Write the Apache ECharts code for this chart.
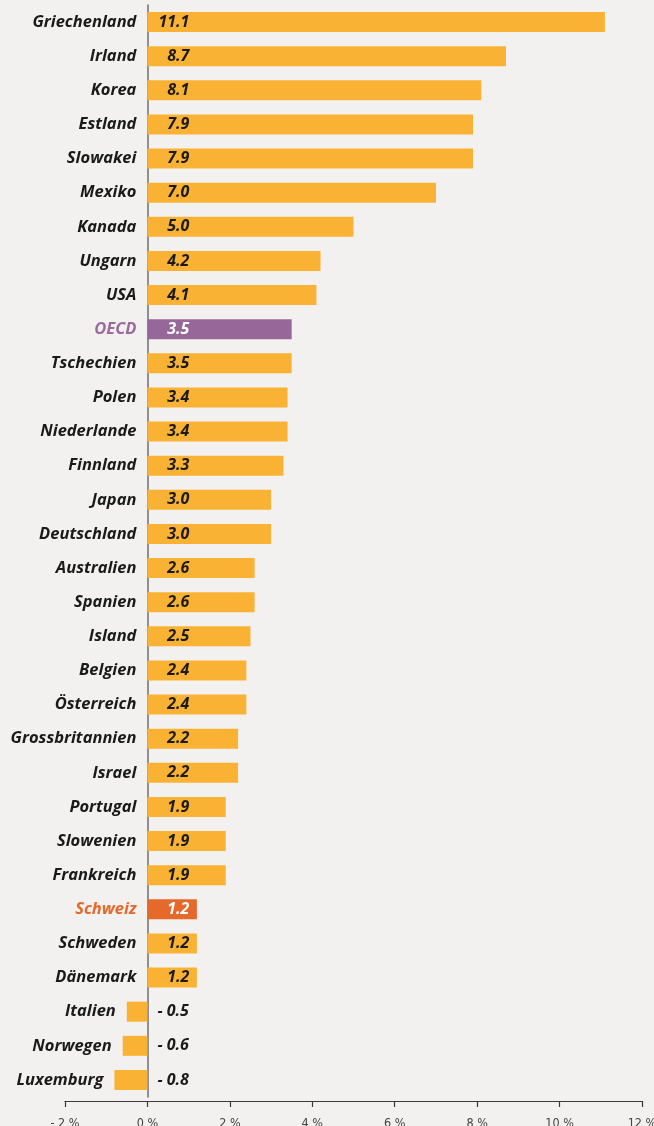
<!DOCTYPE html>
<html>
<head>
<meta charset="utf-8">
<script src="https://cdn.jsdelivr.net/npm/echarts@6/dist/echarts.min.js"></script>
<style>
html,body{margin:0;padding:0;background:#f2f1ef;}
#chart{width:654px;height:1126px;}
</style>
</head>
<body>
<div id="chart"></div>
<script>
const categories = ["Griechenland","Irland","Korea","Estland","Slowakei","Mexiko","Kanada","Ungarn","USA","OECD","Tschechien","Polen","Niederlande","Finnland","Japan","Deutschland","Australien","Spanien","Island","Belgien","Österreich","Grossbritannien","Israel","Portugal","Slowenien","Frankreich","Schweiz","Schweden","Dänemark","Italien","Norwegen","Luxemburg"];
const values = [11.1,8.7,8.1,7.9,7.9,7.0,5.0,4.2,4.1,3.5,3.5,3.4,3.4,3.3,3.0,3.0,2.6,2.6,2.5,2.4,2.4,2.2,2.2,1.9,1.9,1.9,1.2,1.2,1.2,-0.5,-0.6,-0.8];
const xTicks = {min:-2, max:12, interval:2};

const highlight = {
  "OECD": {bar:"#98679a", name:"#9b6b9d", value:"#ffffff"},
  "Schweiz": {bar:"#e4692b", name:"#e4692b", value:"#ffffff"}
};
const baseColor = {bar:"#f9b233", name:"#1a1a1a", value:"#1a1a1a"};
const FONT = "'Open Sans', sans-serif";

const mainData = values.map((v,i)=>{
  const c = highlight[categories[i]] || baseColor;
  const lbl = v >= 0
    ? {position:[42,'50%'], align:'right', verticalAlign:'middle', color:c.value}
    : {position:'right', distance:10, align:'left', color:c.value};
  return {value:v, itemStyle:{color:c.bar}, label:lbl};
});
const nameData = values.map((v,i)=>{
  const c = highlight[categories[i]] || baseColor;
  return {value:Math.min(v,0), label:{color:c.name}};
});

const chart = echarts.init(document.getElementById('chart'));
chart.setOption({
  backgroundColor:'#f2f1ef',
  animation:false,
  grid:{left:65, right:12, top:5, bottom:29, containLabel:false, outerBoundsMode:'none'},
  xAxis:{
    type:'value', min:xTicks.min, max:xTicks.max, interval:xTicks.interval,
    offset:4,
    position:'bottom',
    splitLine:{show:false},
    axisLine:{show:true, onZero:false, lineStyle:{color:'#3a3a3a', width:1.2}},
    axisTick:{show:true, length:6, lineStyle:{color:'#3a3a3a', width:1.2}},
    axisLabel:{margin:16, fontSize:12.5, color:'#444', fontFamily:"'Liberation Sans Narrow','DejaVu Sans Condensed',sans-serif",
      formatter:v=> v<0 ? '- '+(-v)+' %' : v+' %'}
  },
  yAxis:{
    type:'category', data:categories, inverse:true,
    axisLabel:{show:false}, axisTick:{show:false},
    axisLine:{show:true, onZero:true, lineStyle:{color:'#6e6e6e', width:1.5}},
    splitLine:{show:false}
  },
  series:[
    {
      type:'bar', data:nameData, barWidth:20, barGap:'-100%', z:1,
      itemStyle:{color:'rgba(0,0,0,0)'},
      label:{show:true, position:'left', distance:11, fontFamily:FONT, fontSize:16.5, fontWeight:'bold', fontStyle:'italic',
        formatter:p=>categories[p.dataIndex]}
    },
    {
      type:'bar', data:mainData, barWidth:20, z:2,
      label:{show:true, fontFamily:FONT, fontSize:16, fontWeight:'bold', fontStyle:'italic',
        formatter:p=>{const v=values[p.dataIndex]; return v<0 ? '- '+Math.abs(v).toFixed(1) : v.toFixed(1);}}
    }
  ]
});
</script>
</body>
</html>
